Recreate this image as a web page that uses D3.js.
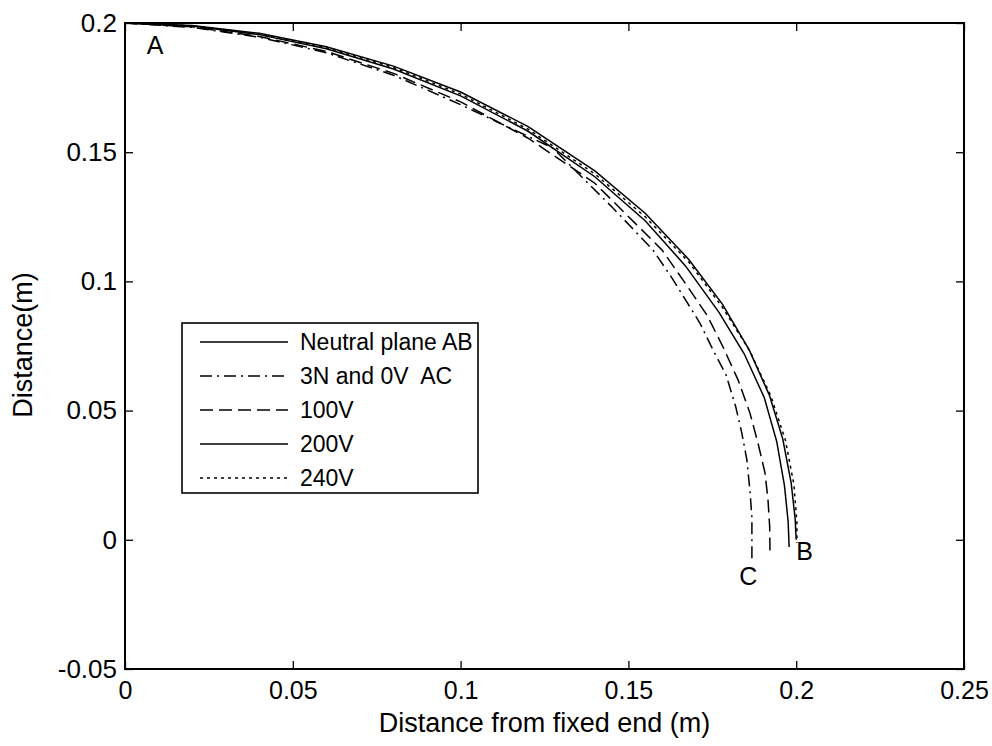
<!DOCTYPE html>
<html><head><meta charset="utf-8">
<script src="https://cdn.jsdelivr.net/npm/d3@7/dist/d3.min.js"></script>
<style>
html,body{margin:0;padding:0;background:#fff;}
text{font-family:"Liberation Sans",Arial,Helvetica,sans-serif;fill:#000;white-space:pre;}
</style></head>
<body><svg id="chart" width="992" height="746"></svg>
<script>
// ---- data ----
const xTicks = [0, 0.05, 0.1, 0.15, 0.2, 0.25];
const xTickLabels = ["0", "0.05", "0.1", "0.15", "0.2", "0.25"];
const yTicks = [-0.05, 0, 0.05, 0.1, 0.15, 0.2];
const yTickLabels = ["-0.05", "0", "0.05", "0.1", "0.15", "0.2"];
const seriesNames = ["Neutral plane AB", "3N and 0V  AC", "100V", "200V", "240V"];

const neutralAB = [[0,0.2],[0.02,0.199],[0.04,0.196],[0.06,0.1908],[0.08,0.1833],[0.1,0.1733],[0.12,0.16],[0.14,0.1428],[0.155,0.1264],[0.168,0.1085],[0.178,0.0912],[0.186,0.0735],[0.192,0.056],[0.196,0.039],[0.1985,0.022],[0.1997,0.008],[0.2,0]];
const v0AC = [[0,0.2],[0.02,0.1983],[0.04,0.1945],[0.06,0.1885],[0.08,0.1798],[0.1,0.1684],[0.1275,0.1516],[0.1454,0.1284],[0.1573,0.1122],[0.163,0.1013],[0.1713,0.0839],[0.1752,0.0735],[0.1791,0.0638],[0.182,0.0514],[0.1838,0.0413],[0.1853,0.0309],[0.1862,0.0193],[0.1868,0.0088],[0.1868,-0.009]];
const v100 = [[0,0.2],[0.02,0.1985],[0.04,0.1948],[0.06,0.189],[0.08,0.1805],[0.1,0.1695],[0.12,0.1555],[0.14,0.138],[0.16,0.1122],[0.1663,0.1005],[0.1734,0.087],[0.1782,0.0746],[0.1827,0.0618],[0.1862,0.0491],[0.1886,0.0375],[0.1907,0.0259],[0.1916,0.0154],[0.1921,0.005],[0.1922,-0.0059]];
const v200 = [[0,0.2],[0.02,0.1988],[0.04,0.1955],[0.06,0.19],[0.08,0.1822],[0.1,0.1718],[0.12,0.1582],[0.14,0.1405],[0.155,0.1235],[0.167,0.106],[0.177,0.088],[0.1845,0.072],[0.1905,0.055],[0.1942,0.038],[0.1965,0.021],[0.1976,0.007],[0.1979,-0.0028]];
const v240 = [[0,0.2],[0.02,0.1989],[0.04,0.1957],[0.06,0.1904],[0.08,0.1828],[0.1,0.1725],[0.12,0.159],[0.14,0.1416],[0.155,0.125],[0.168,0.1075],[0.178,0.09],[0.1862,0.073],[0.1925,0.0555],[0.1968,0.0385],[0.1993,0.0215],[0.2002,0.007],[0.2002,-0.0012]];

const series = [neutralAB, v0AC, v100, v200, v240];
const dashes = [null, "12,5,2,5", "13,6", null, "3,4"];

// ---- layout ----
const L = 125, R = 964, T = 23, B = 669;
const svg = d3.select("#chart");
const x = d3.scaleLinear().domain([0, 0.25]).range([L, R]);
const y = d3.scaleLinear().domain([-0.05, 0.2]).range([B, T]);

// curves
const line = d3.line().x(d => x(d[0])).y(d => y(d[1]));
series.forEach((s, i) => {
  svg.append("path").datum(s).attr("d", line)
    .attr("fill", "none").attr("stroke", "#000").attr("stroke-width", 1.5)
    .attr("stroke-dasharray", dashes[i]);
});

// axes (box with inward ticks)
const axBottom = d3.axisBottom(x).tickValues(xTicks).tickSize(-8).tickFormat((d,i)=>xTickLabels[i]).tickPadding(12);
const axTop = d3.axisTop(x).tickValues(xTicks).tickSize(-8).tickFormat("");
const axLeft = d3.axisLeft(y).tickValues(yTicks).tickSize(-8).tickFormat((d,i)=>yTickLabels[i]).tickPadding(8);
const axRight = d3.axisRight(y).tickValues(yTicks).tickSize(-8).tickFormat("");
function style(fs){
  return g => {
    g.select(".domain").remove();
    g.selectAll(".tick line").attr("stroke","#000").attr("stroke-width",1.3);
    g.selectAll("text").attr("font-size", fs).attr("fill","#000")
      .style("font-family",'"Liberation Sans",Arial,sans-serif');
  };
}
svg.append("g").attr("transform",`translate(0,${B})`).call(axBottom).call(style(25));
svg.append("g").attr("transform",`translate(0,${T})`).call(axTop).call(style(25));
svg.append("g").attr("transform",`translate(${L},0)`).call(axLeft).call(style(26));
svg.append("g").attr("transform",`translate(${R},0)`).call(axRight).call(style(26));
svg.append("rect").attr("x",L).attr("y",T).attr("width",R-L).attr("height",B-T)
  .attr("fill","none").attr("stroke","#000").attr("stroke-width",2);

// axis titles
svg.append("text").attr("x",(L+R)/2).attr("y",732).attr("text-anchor","middle")
  .attr("font-size",27).text("Distance from fixed end (m)");
svg.append("text").attr("transform","translate(32,345) rotate(-90)").attr("text-anchor","middle")
  .attr("font-size",27).text("Distance(m)");

// point labels
svg.append("text").attr("x",x(0.009)).attr("y",y(0.188)).attr("text-anchor","middle").attr("font-size",25).text("A");
svg.append("text").attr("x",x(0.2025)).attr("y",y(-0.0077)).attr("text-anchor","middle").attr("font-size",25).text("B");
svg.append("text").attr("x",x(0.1857)).attr("y",y(-0.0174)).attr("text-anchor","middle").attr("font-size",25).text("C");

// legend
const lg = svg.append("g");
lg.append("rect").attr("x",182).attr("y",323).attr("width",296).attr("height",170)
  .attr("fill","#fff").attr("stroke","#000").attr("stroke-width",1.6);
seriesNames.forEach((n,i)=>{
  const yy = 342 + i*34;
  lg.append("line").attr("x1",200).attr("x2",288).attr("y1",yy).attr("y2",yy)
    .attr("stroke","#000").attr("stroke-width",1.5).attr("stroke-dasharray",dashes[i]);
  lg.append("text").attr("x",300).attr("y",yy+8).attr("font-size",23)
    .attr("xml:space","preserve").text(n);
});
</script></body></html>
